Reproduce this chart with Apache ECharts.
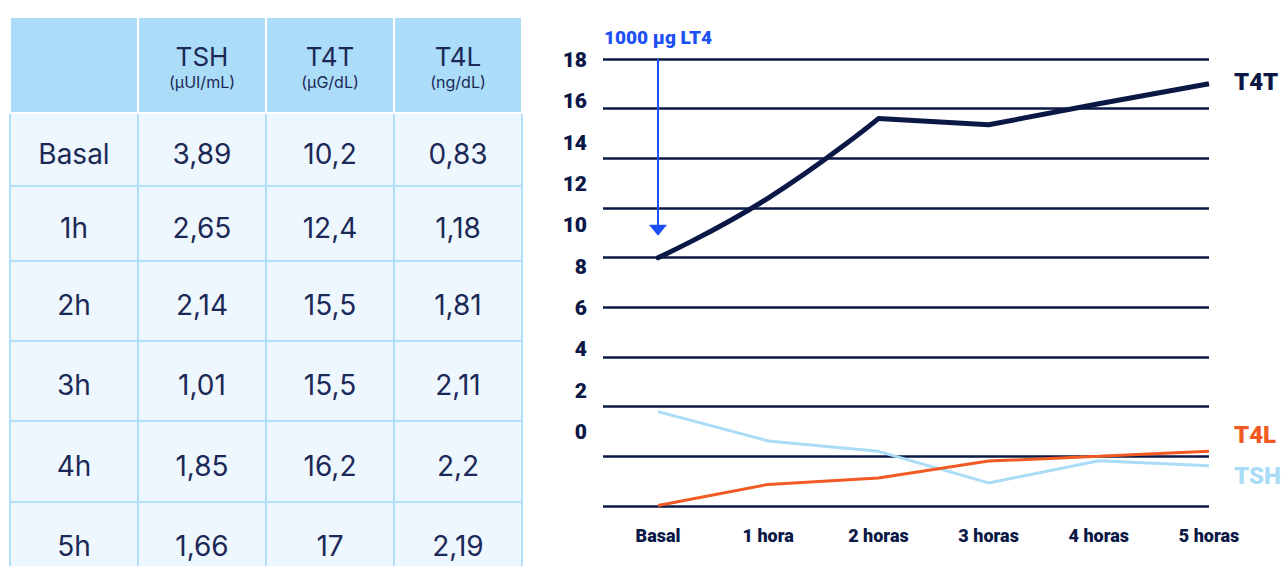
<!DOCTYPE html>
<html>
<head>
<meta charset="utf-8">
<script src="https://cdn.jsdelivr.net/npm/echarts@6/dist/echarts.min.js"></script>
<style>
  html, body { margin: 0; padding: 0; background: #fff; }
  #chart { position: absolute; left: 0; top: 0; width: 1282px; height: 566px; }
  #tabla {
    position: absolute; left: 9px; top: 16px; width: 514px;
    border-collapse: collapse; table-layout: fixed;
    font-family: "Inter", "Noto Sans", sans-serif; color: #1c2957;
  }
  #tabla th {
    background: #abdcf8; border: 2px solid #fff; height: 90px;
    font-weight: 400; font-size: 26px; line-height: 30px; padding: 4px 0 0 0;
  }
  #tabla th small { display: block; font-size: 16px; line-height: 20px; }
  #tabla td {
    background: #eef7fe; border: 2px solid #b2dff9; text-align: center;
    font-size: 28px; padding: 8px 0 0 0;
  }
</style>
</head>
<body>
<div id="chart"></div>
<table id="tabla"></table>
<script>
// tabla
var columnas = ['TSH', 'T4T', 'T4L'];
var unidades = ['(µUI/mL)', '(µG/dL)', '(ng/dL)'];
var filas = ['Basal', '1h', '2h', '3h', '4h', '5h'];
var tablaTSH = ['3,89', '2,65', '2,14', '1,01', '1,85', '1,66'];
var tablaT4T = ['10,2', '12,4', '15,5', '15,5', '16,2', '17'];
var tablaT4L = ['0,83', '1,18', '1,81', '2,11', '2,2', '2,19'];
var altoFilas = [73, 75, 80, 80, 81, 80];

// grafico
var horas = ['Basal', '1 hora', '2 horas', '3 horas', '4 horas', '5 horas'];
var serieT4T = [10.0, 12.4, 15.6, 15.35, 16.2, 17.0];
var serieTSH = [3.8, 2.62, 2.2, 0.93, 1.82, 1.62];
var serieT4L = [0.02, 0.87, 1.13, 1.81, 2.0, 2.2];
var dosis = '1000 µg LT4';

var navy = '#0b1846';

(function () {
  var html = '<tr><th></th>';
  columnas.forEach(function (c, i) {
    html += '<th>' + c + '<small>' + unidades[i] + '</small></th>';
  });
  html += '</tr>';
  filas.forEach(function (f, i) {
    html += '<tr style="height:' + altoFilas[i] + 'px"><td>' + f + '</td><td>' + tablaTSH[i] +
      '</td><td>' + tablaT4T[i] + '</td><td>' + tablaT4L[i] + '</td></tr>';
  });
  document.getElementById('tabla').innerHTML = html;
})();

var chart = echarts.init(document.getElementById('chart'), null, { renderer: 'svg' });

var fuente = 'Roboto, "Noto Sans", sans-serif';

function finSerie(texto, color, offset) {
  return {
    show: true,
    formatter: texto,
    color: color,
    fontSize: 24,
    fontWeight: 900,
    fontFamily: fuente,
    distance: 25,
    offset: offset
  };
}

// T4T: tramo curvo hasta las 2 horas, recto despues
var t4tInicio = serieT4T.map(function (v, i) { return i <= 2 ? v : null; });
var t4tFinal = serieT4T.map(function (v, i) { return i >= 2 ? v : null; });

var option = {
  animation: false,
  grid: [
    { left: 603, right: 73, top: 59, height: 447 },
    { left: 658, right: 73, top: 59, height: 447 },
    { left: 600, width: 10, top: 60, height: 372 }
  ],
  xAxis: [
    { gridIndex: 0, type: 'value', min: 0, max: 1, show: false },
    {
      gridIndex: 1, type: 'category', data: horas, boundaryGap: false,
      axisLine: { show: false }, axisTick: { show: false },
      axisLabel: { margin: 20, color: navy, fontSize: 18, fontWeight: 900, fontFamily: fuente }
    },
    { gridIndex: 2, type: 'value', min: 0, max: 1, show: false }
  ],
  yAxis: [
    {
      gridIndex: 0, type: 'value', min: 0, max: 18, interval: 2,
      axisLine: { show: false }, axisTick: { show: false }, axisLabel: { show: false },
      splitLine: { show: true, lineStyle: { color: navy, width: 2.5 } }
    },
    { gridIndex: 1, type: 'value', min: 0, max: 18, interval: 2, show: false },
    {
      gridIndex: 2, type: 'value', min: 0, max: 18, interval: 2,
      axisLine: { show: false }, axisTick: { show: false }, splitLine: { show: false },
      axisLabel: { margin: 13, color: navy, fontSize: 21, fontWeight: 900, fontFamily: fuente }
    }
  ],
  series: [
    {
      name: 'TSH', type: 'line', xAxisIndex: 1, yAxisIndex: 1,
      data: serieTSH, symbol: 'none',
      lineStyle: { color: '#aadcf8', width: 3 },
      endLabel: finSerie('TSH', '#aadcf8', [0, 10])
    },
    {
      name: 'T4L', type: 'line', xAxisIndex: 1, yAxisIndex: 1,
      data: serieT4L, symbol: 'none',
      lineStyle: { color: '#f15a22', width: 3 },
      endLabel: finSerie('T4L', '#f15a22', [0, -16])
    },
    {
      name: 'T4T', type: 'line', xAxisIndex: 1, yAxisIndex: 1,
      data: t4tInicio, symbol: 'none', smooth: 0.5,
      lineStyle: { color: navy, width: 5, cap: 'round' },
      markLine: {
        silent: true,
        symbol: ['none', 'triangle'],
        symbolSize: [18, 11],
        lineStyle: { color: '#1d4ff6', width: 2, type: 'solid' },
        label: {
          show: true, position: 'start', formatter: dosis, distance: 12,
          color: '#1d4ff6', fontSize: 19, fontWeight: 900, fontFamily: fuente
        },
        data: [[{ coord: [0, 18] }, { coord: [0, 11.1] }]]
      }
    },
    {
      name: 'T4T', type: 'line', xAxisIndex: 1, yAxisIndex: 1,
      data: t4tFinal, symbol: 'none',
      lineStyle: { color: navy, width: 5 },
      endLabel: finSerie('T4T', navy, [0, -2])
    }
  ]
};

chart.setOption(option);
</script>
</body>
</html>
